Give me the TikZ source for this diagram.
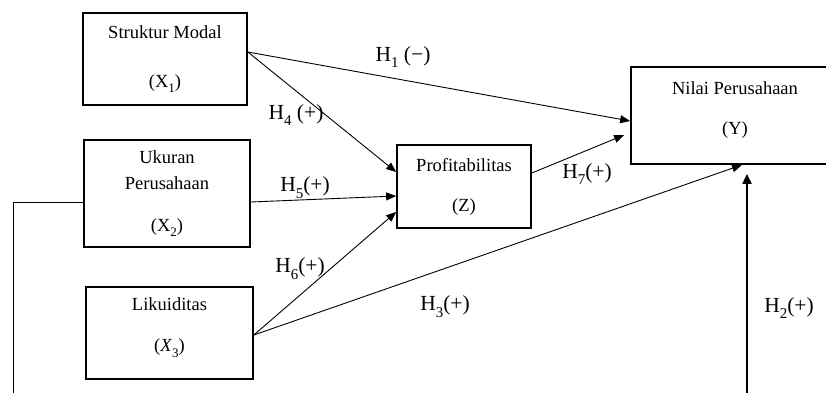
\documentclass[tikz,border=0pt]{standalone}
\usepackage{fontspec}
\setmainfont{Liberation Serif}
\usetikzlibrary{arrows.meta}
\newcommand{\hsub}[1]{\raisebox{-0.32em}{\fontsize{15}{15}\selectfont #1}}
\newcommand{\bsub}[1]{\raisebox{-0.3em}{\fontsize{13}{13}\selectfont #1}}
\begin{document}
\begin{tikzpicture}[x=1pt,y=-1pt,
  box/.style={draw,line width=1.7pt,inner sep=0pt,align=center,
    font=\fontsize{18.5}{22}\selectfont},
  boxtext/.style={align=center,inner sep=0pt,font=\fontsize{18.5}{22}\selectfont},
  arr/.style={line width=0.9pt,-{Triangle[length=10pt,width=8pt]}},
  link/.style={line width=0.9pt},
  thickarr/.style={line width=1.8pt,-{Triangle[length=10pt,width=9pt]}},
  lab/.style={inner sep=0pt,font=\fontsize{21.5}{24}\selectfont}]
\useasboundingbox (0,0) rectangle (826,392);
\clip (0,0) rectangle (826,392);

% boxes
\node[box,minimum width=164pt,minimum height=92pt] (sm) at (165,59)
  {Struktur Modal\\[27pt](X\bsub{1})};
\node[box,minimum width=166pt,minimum height=107pt] (uk) at (167,193.5)
  {Ukuran\\[4pt]Perusahaan\\[20pt](X\bsub{2})};
\node[box,minimum width=167pt,minimum height=92pt,
  label={[boxtext,yshift=5.5pt]center:Likuiditas\\[19pt](\textit{X}\bsub{3})}] (lk) at (169.5,333) {};
\node[box,minimum width=134pt,minimum height=83pt] (pf) at (464,186.5)
  {Profitabilitas\\[18pt](Z)};
\node[box,minimum width=208pt,minimum height=97pt,
  label={[boxtext,yshift=5.5pt]center:Nilai Perusahaan\\[18pt](Y)}] (nl) at (735,115.5) {};

% connectors
\draw[arr] ([yshift=7pt]sm.east) -- ([yshift=-5.5pt]nl.west);
\draw[arr] ([yshift=7pt]sm.east) -- ([yshift=14.5pt]pf.west);
\draw[arr] ([yshift=-8.5pt]uk.east) -- ([yshift=-9.5pt]pf.west);
\draw[arr] ([yshift=-2pt]lk.east) -- ([yshift=-25.5pt]pf.west);
\draw[arr] ([yshift=-2pt]lk.east) -- ([xshift=7pt]nl.south);
\draw[arr] ([yshift=13.5pt]pf.east) -- ([xshift=-6pt,yshift=-19.5pt]nl.west);
\coordinate (h2a) at (13,420);
\coordinate (h2b) at (747,420);
\draw[link] ([yshift=-8.5pt]uk.west) -| (h2a) -- (h2b);
\draw[thickarr] (h2b) -- ([xshift=12pt,yshift=-9pt]nl.south);

% labels
\node[lab] (l1) at (403,57) {H\hsub{1} (−)};
\node[lab] (l4) at (296,115) {H\hsub{4} (+)};
\node[lab] (l5) at (305,188) {H\hsub{5}(+)};
\node[lab] (l6) at (300,269) {H\hsub{6}(+)};
\node[lab] (l3) at (445,307) {H\hsub{3}(+)};
\node[lab] (l2) at (789,308) {H\hsub{2}(+)};
\node[lab] (l7) at (587,174) {H\hsub{7}(+)};
\end{tikzpicture}
\end{document}
